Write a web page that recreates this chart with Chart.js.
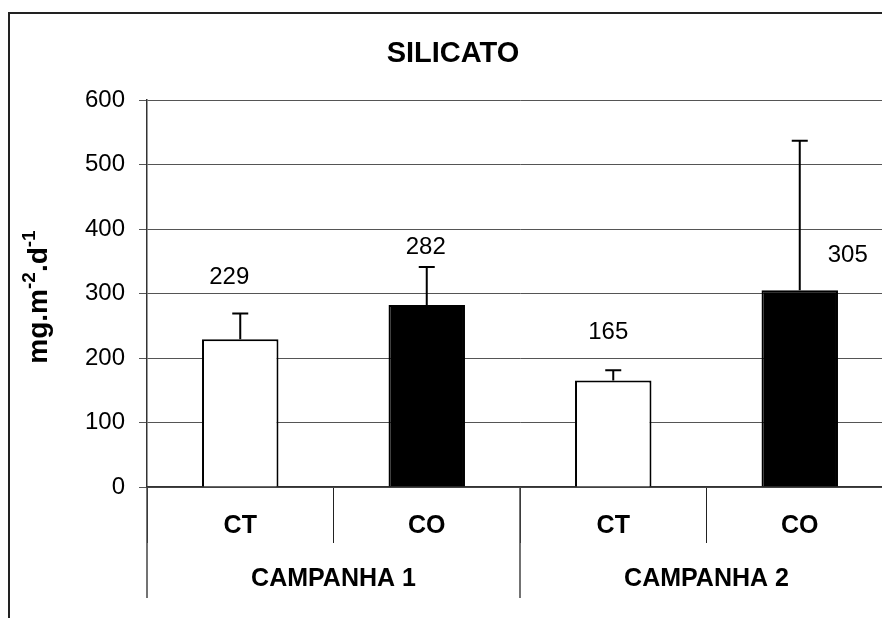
<!DOCTYPE html>
<html>
<head>
<meta charset="utf-8">
<script src="https://cdn.jsdelivr.net/npm/chart.js@4.4.1/dist/chart.umd.min.js"></script>
<style>
    html, body { margin: 0; padding: 0; background: #fff; overflow: hidden; }
    canvas { display: block; }
</style>
</head>
<body>
<canvas id="silicatoChart" width="900" height="618"></canvas>
<script>
// Data
const treatments = ['CT', 'CO', 'CT', 'CO'];
const campaigns = ['CAMPANHA 1', 'CAMPANHA 2'];
const silicatoMeans = [229, 282, 165, 305];
const silicatoErrUp = [40, 59, 16, 232];
const yTicks = [0, 100, 200, 300, 400, 500, 600];

const FONT = '"Liberation Sans", Arial, sans-serif';

// Upper error bars with caps
const errorBarsPlugin = {
    id: 'errorBars',
    afterDatasetsDraw(chart) {
        const ctx = chart.ctx;
        const y = chart.scales.y;
        const meta = chart.getDatasetMeta(0);
        ctx.save();
        ctx.strokeStyle = '#000';
        ctx.lineWidth = 2;
        meta.data.forEach((bar, i) => {
            const top = y.getPixelForValue(silicatoMeans[i] + silicatoErrUp[i]);
            ctx.beginPath();
            ctx.moveTo(bar.x, bar.y);
            ctx.lineTo(bar.x, top);
            ctx.moveTo(bar.x - 8, top);
            ctx.lineTo(bar.x + 8, top);
            ctx.stroke();
        });
        ctx.restore();
    }
};

// Value labels, placed as in the original figure
const valueLabelsPlugin = {
    id: 'valueLabels',
    afterDatasetsDraw(chart) {
        const ctx = chart.ctx;
        const meta = chart.getDatasetMeta(0);
        const offsets = [[-11, -62], [-1, -58], [-5, -48], [48, -35]];
        ctx.save();
        ctx.font = '24px ' + FONT;
        ctx.fillStyle = '#000';
        ctx.textAlign = 'center';
        ctx.textBaseline = 'middle';
        meta.data.forEach((bar, i) => {
            ctx.fillText(String(silicatoMeans[i]), bar.x + offsets[i][0], bar.y + offsets[i][1]);
        });
        ctx.restore();
    }
};

// Two-level category axis, title, y title and frame
const decorPlugin = {
    id: 'decor',
    afterDraw(chart) {
        const ctx = chart.ctx;
        const x = chart.scales.x;
        const area = chart.chartArea;
        const step = x.getPixelForValue(1) - x.getPixelForValue(0);
        ctx.save();
        ctx.fillStyle = '#000';
        ctx.textAlign = 'center';
        ctx.textBaseline = 'middle';

        // treatment labels
        ctx.font = 'bold 25px ' + FONT;
        chart.data.labels.forEach((lab, i) => {
            ctx.fillText(lab, x.getPixelForValue(i), area.bottom + 39);
        });

        // campaign labels and long separators
        ctx.strokeStyle = '#444';
        ctx.lineWidth = 1.5;
        campaigns.forEach((c, g) => {
            const left = x.getPixelForValue(g * 2) - step / 2;
            const right = left + step * 2;
            ctx.fillText(c, (left + right) / 2, area.bottom + 92);
            ctx.beginPath();
            ctx.moveTo(left, area.bottom);
            ctx.lineTo(left, area.bottom + 111);
            ctx.stroke();
        });

        // title
        ctx.font = 'bold 29px ' + FONT;
        ctx.fillText('SILICATO', 453, 54);

        // y axis title with superscripts
        ctx.translate(47, 297);
        ctx.rotate(-Math.PI / 2);
        const parts = [
            ['mg.m', false], ['-2', true], ['.d', false], ['-1', true]
        ];
        const big = 'bold 28px ' + FONT;
        const small = 'bold 19px ' + FONT;
        let total = 0;
        parts.forEach(p => { ctx.font = p[1] ? small : big; total += ctx.measureText(p[0]).width; });
        let cx = -total / 2;
        ctx.textAlign = 'left';
        ctx.textBaseline = 'alphabetic';
        parts.forEach(p => {
            ctx.font = p[1] ? small : big;
            ctx.fillText(p[0], cx, p[1] ? -12 : 0);
            cx += ctx.measureText(p[0]).width;
        });
        ctx.setTransform(1, 0, 0, 1, 0, 0);

        // outer frame
        ctx.strokeStyle = '#222';
        ctx.lineWidth = 2;
        ctx.beginPath();
        ctx.moveTo(9, 618);
        ctx.lineTo(9, 13);
        ctx.lineTo(900, 13);
        ctx.stroke();
        ctx.restore();
    }
};

document.addEventListener('DOMContentLoaded', function() {
    const ctx = document.getElementById('silicatoChart');
    new Chart(ctx, {
        type: 'bar',
        data: {
            labels: treatments,
            datasets: [{
                data: silicatoMeans,
                backgroundColor: ['#ffffff', '#000000', '#ffffff', '#000000'],
                borderColor: '#000',
                borderWidth: 2,
                categoryPercentage: 1,
                barPercentage: 0.41
            }]
        },
        options: {
            responsive: false,
            animation: false,
            devicePixelRatio: 1,
            layout: { padding: { top: 100, right: 7, bottom: 0, left: 0 } },
            plugins: {
                legend: { display: false },
                title: { display: false },
                tooltip: { enabled: false }
            },
            scales: {
                x: {
                    afterFit: s => { s.height = 131; },
                    grid: {
                        drawOnChartArea: false,
                        offset: true,
                        tickLength: 56,
                        color: '#222',
                        lineWidth: 1
                    },
                    border: { color: '#333', width: 1.5 },
                    ticks: { display: false }
                },
                y: {
                    min: 0,
                    max: 600,
                    afterFit: s => { s.width = 147; },
                    afterBuildTicks: s => { s.ticks = yTicks.map(v => ({ value: v })); },
                    grid: { color: '#555', lineWidth: 1, tickLength: 8 },
                    border: { color: '#333', width: 1.5 },
                    ticks: {
                        padding: 14,
                        color: '#000',
                        font: { family: FONT, size: 24 }
                    }
                }
            }
        },
        plugins: [errorBarsPlugin, valueLabelsPlugin, decorPlugin]
    });
});
</script>
</body>
</html>
